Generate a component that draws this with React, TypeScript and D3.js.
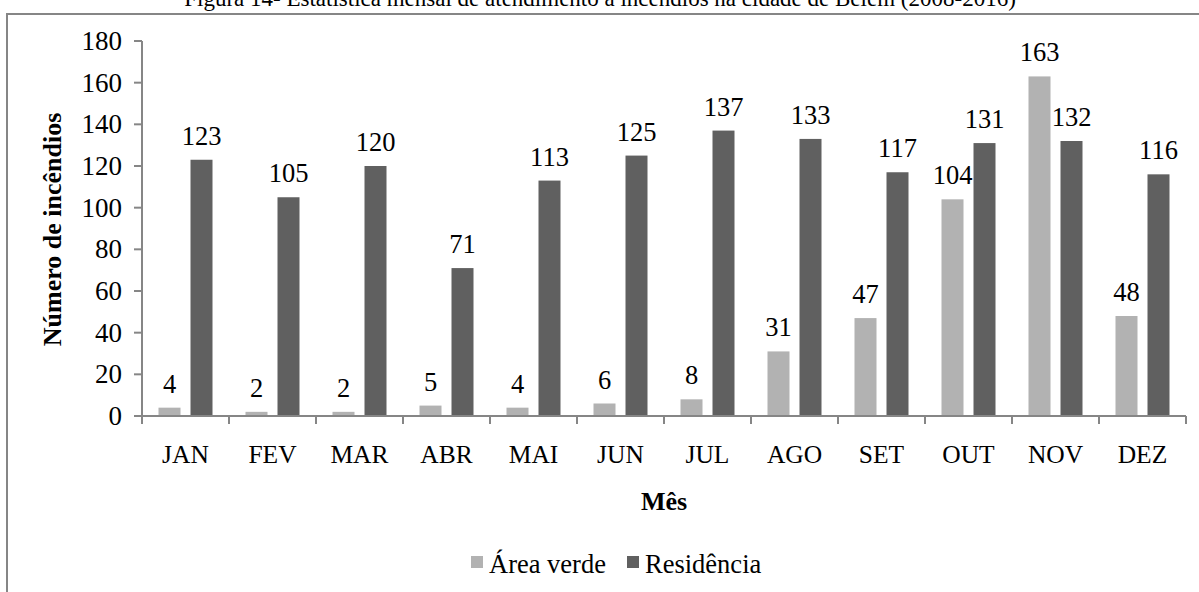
import * as d3 from 'd3';

const months = ['JAN', 'FEV', 'MAR', 'ABR', 'MAI', 'JUN', 'JUL', 'AGO', 'SET', 'OUT', 'NOV', 'DEZ'];
const areaVerde = [4, 2, 2, 5, 4, 6, 8, 31, 47, 104, 163, 48];
const residencia = [123, 105, 120, 71, 113, 125, 137, 133, 117, 131, 132, 116];
const seriesNames = ['Área verde', 'Residência'];
const yTicks = [0, 20, 40, 60, 80, 100, 120, 140, 160, 180];

const title = 'Figura 14- Estatística mensal de atendimento à incêndios na cidade de Belém (2008-2016)';

const W = 1199;
const H = 592;
const FONT = '"Liberation Serif", "Times New Roman", serif';
const colors = ['#b2b2b2', '#606060'];
const axisColor = '#868686';

export default function App() {
  // plot area
  const left = 142;
  const right = 1186;
  const top = 41;
  const bottom = 416;

  const x0 = d3.scaleBand<string>().domain(months).range([left, right]).padding(0);
  const band = x0.bandwidth();
  const x1 = d3
    .scaleBand<string>()
    .domain(seriesNames)
    .range([(band - 54) / 2, (band + 54) / 2])
    .paddingInner(10 / 32);
  const y = d3.scaleLinear().domain([0, 180]).range([bottom, top]);

  const series = [areaVerde, residencia];

  return (
    <svg width={W} height={H} style={{ position: 'absolute', left: 0, top: 0 }} fontFamily={FONT}>
      <rect x={0} y={0} width={W} height={H} fill="#fff" />
      {/* outer frame, only left and top sides fall inside the view */}
      <rect x={7} y={14} width={W + 20} height={H + 20} fill="none" stroke={axisColor} strokeWidth={2} />
      <text x={600} y={6} textAnchor="middle" fontSize={23} fill="#000">
        {title}
      </text>

      {/* y axis */}
      <line x1={left} x2={left} y1={top} y2={bottom} stroke={axisColor} strokeWidth={2} />
      {yTicks.map((t) => (
        <g key={t}>
          <line x1={left - 8} x2={left} y1={y(t)} y2={y(t)} stroke={axisColor} strokeWidth={2} />
          <text x={left - 20} y={y(t) + 9} textAnchor="end" fontSize={27}>
            {t}
          </text>
        </g>
      ))}
      <text
        transform={`translate(61, ${(top + bottom) / 2 + 1}) rotate(-90)`}
        textAnchor="middle"
        fontSize={26}
        fontWeight="bold"
      >
        Número de incêndios
      </text>

      {/* bars */}
      {months.map((m, i) => (
        <g key={m} transform={`translate(${x0(m)},0)`}>
          {series.map((s, k) => {
            const bx = x1(seriesNames[k]) as number;
            const v = s[i];
            return (
              <g key={k}>
                <rect x={bx} y={y(v)} width={x1.bandwidth()} height={bottom - y(v)} fill={colors[k]} />
                <text x={bx + x1.bandwidth() / 2} y={y(v) - 15} textAnchor="middle" fontSize={26.5}>
                  {v}
                </text>
              </g>
            );
          })}
        </g>
      ))}

      {/* x axis */}
      <line x1={left} x2={right} y1={bottom} y2={bottom} stroke={axisColor} strokeWidth={2} />
      {[...months.map((m) => x0(m) as number), right].map((t, i) => (
        <line key={i} x1={t} x2={t} y1={bottom} y2={bottom + 8} stroke={axisColor} strokeWidth={2} />
      ))}
      {months.map((m) => (
        <text key={m} x={(x0(m) as number) + band / 2} y={463} textAnchor="middle" fontSize={25.5}>
          {m}
        </text>
      ))}
      <text x={(left + right) / 2} y={510} textAnchor="middle" fontSize={26} fontWeight="bold">
        Mês
      </text>

      {/* legend */}
      <rect x={471} y={556} width={12} height={12} fill={colors[0]} />
      <text x={489} y={573} fontSize={26.5}>
        {seriesNames[0]}
      </text>
      <rect x={627} y={556} width={12} height={12} fill={colors[1]} />
      <text x={645} y={573} fontSize={26.5}>
        {seriesNames[1]}
      </text>
    </svg>
  );
}
